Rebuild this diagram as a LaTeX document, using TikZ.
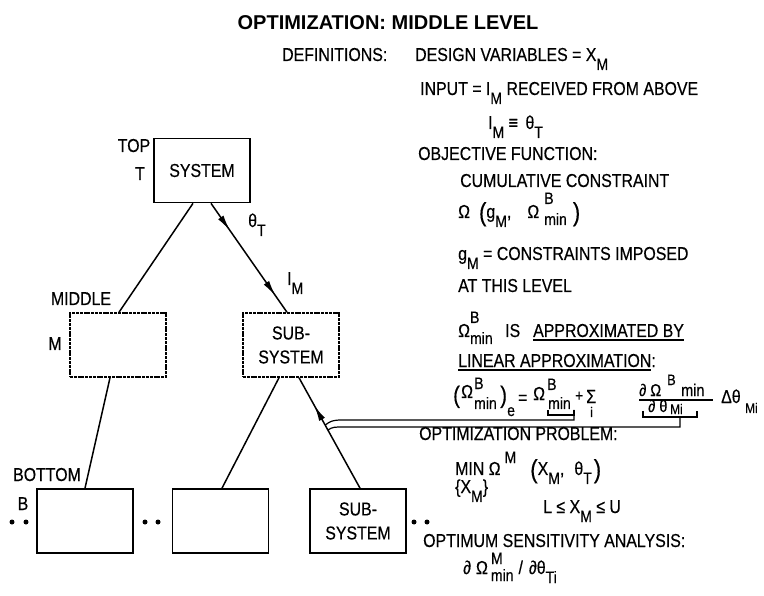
\documentclass[tikz,border=0pt]{standalone}
\usepackage{fontspec}
\setmainfont{Liberation Sans}[FakeStretch=0.85,FakeBold=0.4]
\newfontfamily\tfont{Liberation Sans}
\usetikzlibrary{arrows.meta,decorations.markings,calc}
\newcommand\msz{\fontsize{18.7}{24}\selectfont}
\newcommand\ssz{\fontsize{16.5}{16.5}\selectfont}
\newcommand\dn[1]{\raisebox{-9pt}{\ssz #1}}
\newcommand\dnn[1]{\raisebox{-7pt}{\ssz #1}}
\newcommand\up[1]{\raisebox{14pt}{\ssz #1}}
\newcommand\upr[2]{\raisebox{#1}{\ssz #2}}
\newcommand\bigp[1]{{\fontsize{26}{26}\selectfont\raisebox{-3pt}{#1}}}
\begin{document}
\begin{tikzpicture}[x=1pt,y=-1pt,
  tx/.style={anchor=base west,inner sep=0pt,font=\msz},
  lbl/.style={anchor=base,inner sep=0pt,font=\msz},
  sbox/.style={draw,line width=1.7pt,minimum width=96pt,minimum height=64pt,inner sep=0pt,align=center,font=\msz},
  dbox/.style={sbox,line width=1.5pt,dash pattern=on 3pt off 0.8pt},
  conn/.style={line width=1.5pt},
  thin/.style={line width=1.2pt},
  fs/.style={anchor=base west,inner sep=0pt,font=\ssz},
  dot/.style={fill=black}]
\useasboundingbox (0,0) rectangle (764,596);

% title
\node[anchor=base,inner sep=0pt,font={\tfont\bfseries\fontsize{20}{22}\selectfont}] (title) at (388,30) {OPTIMIZATION: MIDDLE LEVEL};

% ---------------- tree ----------------
\node[sbox] (sys) at (202,170.5) {SYSTEM};
\node[dbox] (mid1) at (118,345) {};
\node[dbox] (mid2) at (291,345) {SUB-\\SYSTEM};
\node[sbox] (bot1) at (85,521) {};
\node[sbox] (bot2) at (220.5,521) {};
\node[sbox] (bot3) at (358,521) {SUB-\\SYSTEM};

\node[lbl] (ltop) at (134,152) {TOP};
\node[lbl] (lt) at (140,180) {T};
\node[lbl] (lmid) at (81,305) {MIDDLE};
\node[lbl] (lm) at (55,350) {M};
\node[lbl] (lbot) at (47,481) {BOTTOM};
\node[lbl] (lb) at (23,510) {B};

\fill[dot] (12,522) circle (2.5pt) (26,522) circle (2.5pt);
\fill[dot] (145,522) circle (2.5pt) (158,522) circle (2.5pt);
\fill[dot] (414,522) circle (2.5pt) (427,522) circle (2.5pt);

\draw[conn] ([xshift=-9pt]sys.south) -- ([xshift=1pt]mid1.north);
\draw[conn,postaction={decorate},decoration={markings,
   mark=at position 0.25 with {\arrow{Latex[length=16pt,width=6.5pt]}},
   mark=at position 0.85 with {\arrow{Latex[length=16pt,width=6.5pt]}}}]
   ([xshift=9pt]sys.south) -- ([xshift=-4pt]mid2.north);
\node[tx] (thT) at (248,227) {θ\dn{T}};
\node[tx] (iM) at (287,285) {I\dn{M}};

\draw[conn] ([xshift=-8pt]mid1.south) -- (bot1.north);
\draw[conn] ([xshift=-12pt]mid2.south) -- ([xshift=1.5pt]bot2.north);
\coordinate (b3t) at ([xshift=2pt]bot3.north);
\coordinate (m2b) at ([xshift=8pt]mid2.south);
\draw[conn,postaction={decorate},decoration={markings,
   mark=at position 0.75 with {\arrow{Latex[length=16pt,width=6.5pt]}}}] (b3t) -- (m2b);

% ---------------- text ----------------
\node[tx] (d1) at (282,61) {DEFINITIONS:};
\node[tx] (d2) at (415,61) {DESIGN VARIABLES = X\dn{M}};
\node[tx] (d3) at (420,95) {INPUT = I\dn{M} RECEIVED FROM ABOVE};
\node[tx] (d4) at (488,129) {I\dn{M} ≡ \,θ\dn{T}};
\node[tx] (d5) at (418,160) {OBJECTIVE FUNCTION:};
\node[tx] (d6) at (460,187) {CUMULATIVE CONSTRAINT};
\node[tx] (d7) at (458,218) {Ω\hspace{9pt}\bigp{(}g\dn{M},\hspace{16pt}Ω\hspace{5pt}\rlap{\up{B}}\dnn{min}\hspace{6pt}\bigp{)}};
\node[tx] (d8) at (458,260) {g\dn{M} = CONSTRAINTS IMPOSED};
\node[tx] (d9) at (458,292) {AT THIS LEVEL};
\node[tx] (d10) at (458,337) {Ω\rlap{\up{B}}\dnn{min}};
\node[tx] (d10a) at (505,337) {IS};
\node[tx] (d10b) at (533,337) {APPROXIMATED BY};
\draw[thin] ([yshift=-3pt]d10b.base west) -- ([yshift=-3pt]d10b.base east);
\node[tx] (d11) at (458,367) {LINEAR APPROXIMATION:};
\draw[thin] ([yshift=-3pt]d11.base west) -- ([yshift=-3pt,xshift=-5pt]d11.base east);

% formula
\node[anchor=base west,inner sep=0pt,font=\fontsize{24}{24}\selectfont] (f1) at (453,403) {(};
\node[tx] (f2) at (461,398) {Ω};
\node[fs] (f3) at (474,389) {B};
\node[fs] (f4) at (474,409) {min};
\node[anchor=base west,inner sep=0pt,font=\fontsize{24}{24}\selectfont] (f5) at (500,403) {)};
\node[fs] (f6) at (507,416) {e};
\node[tx] (f7) at (518,404) {=};
\node[tx] (f8) at (533,400) {Ω};
\node[fs] (f9) at (547,390) {B};
\node[fs] (f10) at (548,409) {min};
\node[anchor=base west,inner sep=0pt,font=\fontsize{16}{16}\selectfont] (f11) at (575,401) {+};
\node[anchor=base west,inner sep=0pt,font=\fontsize{19}{19}\selectfont] (f12) at (586,403) {Σ};
\node[anchor=base west,inner sep=0pt,font=\fontsize{14}{14}\selectfont] (f13) at (590,417) {i};
\node[anchor=base west,inner sep=0pt,font=\fontsize{17}{17}\selectfont] (f14) at (639,396) {∂ Ω};
\node[anchor=base west,inner sep=0pt,font=\fontsize{15}{15}\selectfont] (f15) at (667,385) {B};
\node[anchor=base west,inner sep=0pt,font=\fontsize{17}{17}\selectfont] (f16) at (681,396) {min};
\draw[thin] (639,400) -- (713,400);
\node[anchor=base west,inner sep=0pt,font=\fontsize{17}{17}\selectfont] (f17) at (648,412) {∂ θ};
\node[anchor=base west,inner sep=0pt,font=\fontsize{14}{14}\selectfont] (f18) at (670,414) {Mi};
\node[tx] (f19) at (721,403) {Δθ};
\node[anchor=base west,inner sep=0pt,font=\fontsize{14}{14}\selectfont] (f20) at (745,413) {Mi};

% brackets and double connector
\coordinate (mbl) at (548,410);
\coordinate (mbr) at (574,410);
\coordinate (dbl) at (643,411);
\coordinate (dbr) at (697,411);
\draw[thin] (mbl) -- ++(0,5) -| (mbr);
\draw[thin] (dbl) -- ++(0,6) -| (dbr);
\coordinate (u0) at ($(b3t)!0.571!(m2b)$);
\coordinate (l0) at ($(b3t)!0.527!(m2b)$);
\draw[thin] (u0) .. controls ($(u0)+(5,-4)$) and (333,420) .. (342,420) -- (574,420) -- (mbr);
\draw[thin] (l0) .. controls ($(l0)+(5,-3)$) and (334,427) .. (344,427) -- (680,427) -- (680,417);

\node[tx] (d13) at (419,440) {OPTIMIZATION PROBLEM:};
\node[tx] (d14) at (455,475) {MIN Ω\hspace{4pt}\upr{12pt}{M}\hspace{14pt}\bigp{(}X\dn{M},\hspace{10pt}θ\dn{T}\hspace{2pt}\bigp{)}};
\node[tx] (d15) at (455,493) {\{X\dn{M}\}};
\node[tx] (d16) at (543,513) {L ≤ X\dn{M} ≤ U};
\node[tx] (d17) at (423,547) {OPTIMUM SENSITIVITY ANALYSIS:};
\node[tx] (d18) at (463,574) {∂\hspace{5pt}Ω\hspace{3pt}\rlap{\upr{10pt}{M}}\dnn{min}\hspace{5pt}/\hspace{6pt}∂θ\dn{Ti}};
\end{tikzpicture}
\end{document}
